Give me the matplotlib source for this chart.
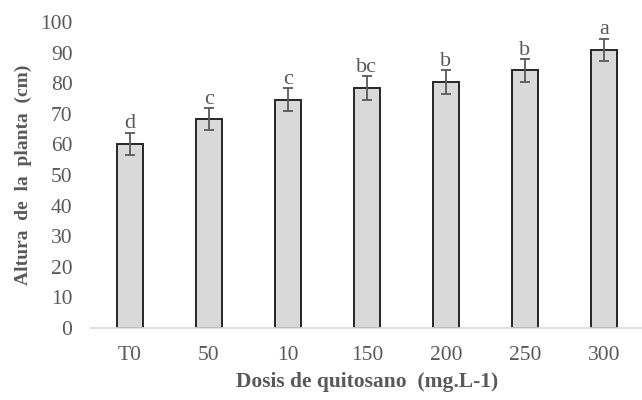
import numpy as np
import matplotlib.pyplot as plt

# datos
dosis = ['T0', '50', '10', '150', '200', '250', '300']
altura = [60.1, 68.3, 74.6, 78.4, 80.4, 84.2, 90.9]
error = [3.7, 3.6, 3.7, 3.8, 3.8, 3.7, 3.7]
letras = ['d', 'c', 'c', 'bc', 'b', 'b', 'a']

plt.rcParams['font.family'] = ['Liberation Serif', 'DejaVu Serif']
gris = '#595959'

fig = plt.figure(figsize=(6.42, 4.0), dpi=100)
ax = fig.add_axes([0.141, 0.18, 0.861, 0.765])

x = np.arange(len(dosis))
ax.bar(x, altura, width=0.33, color='#d9d9d9', edgecolor='#262626', linewidth=1.4, zorder=2)
ax.errorbar(x, altura, yerr=error, fmt='none', ecolor=gris, elinewidth=1.3,
            capsize=3.6, capthick=1.3, zorder=3)

for xi, h, e, l in zip(x, altura, error, letras):
    ax.text(xi, h + e - 0.2, l, ha='center', va='bottom', fontsize=16, color=gris)

ax.set_xlim(-0.5, 6.5)
ax.set_ylim(0, 100)
ax.set_yticks(range(0, 101, 10))
ax.set_xticks(x)
ax.set_xticklabels(dosis)
ax.tick_params(axis='both', length=0, labelsize=15.5, labelcolor=gris)
ax.tick_params(axis='y', pad=13)
ax.tick_params(axis='x', pad=13)

for s in ['top', 'right', 'left']:
    ax.spines[s].set_visible(False)
ax.spines['bottom'].set_color('#d9d9d9')
ax.spines['bottom'].set_linewidth(1.2)

ax.set_ylabel('Altura  de  la  planta  (cm)', fontsize=14, fontweight='bold', color=gris, labelpad=6)
ax.set_xlabel('Dosis de quitosano  (mg.L-1)', fontsize=15.5, fontweight='bold', color=gris, labelpad=5)

fig.savefig('out.png', dpi=100)
